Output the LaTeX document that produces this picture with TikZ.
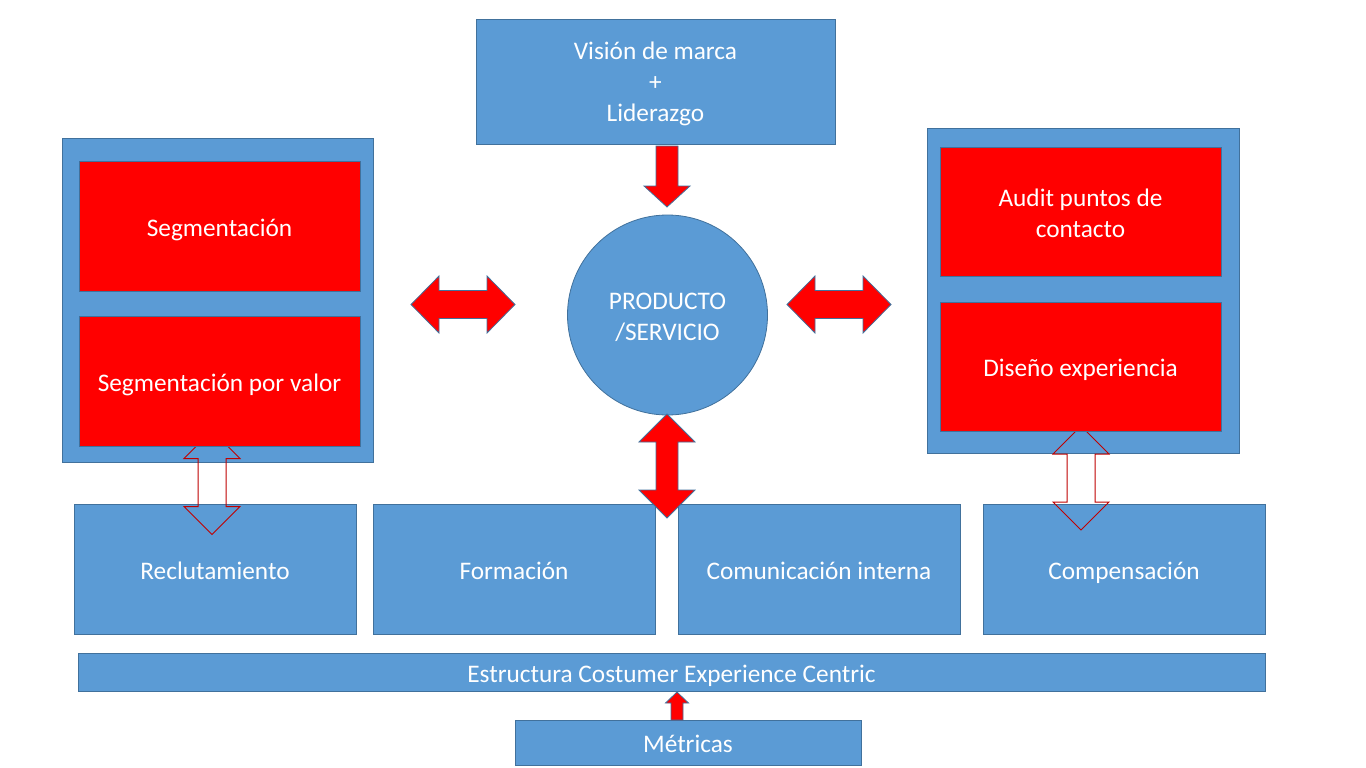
\documentclass[tikz,border=0pt]{standalone}
\usepackage{fontspec}
\setmainfont{Carlito}
\definecolor{boxblue}{HTML}{5B9BD5}
\definecolor{boxline}{HTML}{41719C}
\definecolor{hollowred}{HTML}{C00000}
\begin{document}
\begin{tikzpicture}[x=1pt,y=-1pt,
    box/.style={draw=boxline, fill=boxblue, line width=0.8pt, text=white, align=center,
      inner sep=0pt, font=\fontsize{25.3}{31}\selectfont},
    oneline/.style={text height=25pt, text depth=5pt},
    redbox/.style={box, fill=red},
    blockarrow/.style={draw=boxline, fill=red, line width=0.8pt},
    hollowarrow/.style={draw=hollowred, line width=1pt}]
    \useasboundingbox (0,0) rectangle (1366,768);
    \fill[white] (0,0) rectangle (1366,768);
    % top and centre
    \node[box, minimum width=359pt, minimum height=125pt] (vision) at (655.5,81.5) {\rule{0pt}{0.92em}Visión de marca\\+\\Liderazgo};
    \node[box, circle, minimum size=200pt] (prod) at (667.5,315) {\rule{0pt}{0.8em}PRODUCTO\\/SERVICIO};
    % side containers
    \node[box, minimum width=311pt, minimum height=324pt] (leftc) at (217.5,300) {};
    \node[box, minimum width=312pt, minimum height=325pt] (rightc) at (1083,290.5) {};
    % bottom row
    \node[box, oneline, minimum width=282pt, minimum height=130pt] (reclu) at (215,569) {Reclutamiento};
    \node[box, oneline, minimum width=282pt, minimum height=130pt] (forma) at (514,569) {Formación};
    \node[box, oneline, minimum width=282pt, minimum height=130pt] (comu) at (819,569) {Comunicación interna};
    \node[box, oneline, minimum width=282pt, minimum height=130pt] (compe) at (1124,569) {Compensación};
    \node[box, oneline, minimum width=1187pt, minimum height=38pt] (estru) at (671.5,672) {Estructura Costumer Experience Centric};
    \node[box, oneline, minimum width=346pt, minimum height=45pt] (metri) at (688,742.5) {Métricas};
    % hollow arrows
    \coordinate (h1) at (212,482.5);
    \coordinate (h2) at (1081,478);
    \foreach \c in {h1,h2}
      \draw[hollowarrow, shift={(\c)}] (0,-52) -- (28,-24) -- (14,-24) -- (14,24) -- (28,24) -- (0,52)
        -- (-28,24) -- (-14,24) -- (-14,-24) -- (-28,-24) -- cycle;
    % red boxes
    \node[redbox, oneline, minimum width=281pt, minimum height=130pt] (seg) at (219.5,226) {Segmentación};
    \node[redbox, oneline, minimum width=281pt, minimum height=130pt] (segv) at (219.5,381) {Segmentación por valor};
    \node[redbox, minimum width=281pt, minimum height=129pt] (audit) at (1080.5,211.5) {\rule{0pt}{0.86em}Audit puntos de\\contacto};
    \node[redbox, oneline, minimum width=281pt, minimum height=129pt] (disen) at (1080.5,366.5) {Diseño experiencia};
    % red arrows
    \coordinate (a1) at (667,176.5);
    \coordinate (a2) at (463,304.5);
    \coordinate (a3) at (839,304.5);
    \coordinate (a4) at (667,466);
    \coordinate (a5) at (677,706);
    \draw[blockarrow, shift={(a1)}] (-11,-30.5) -- (11,-30.5) -- (11,9.5) -- (23,9.5) -- (0,30.5)
      -- (-23,9.5) -- (-11,9.5) -- cycle;
    \foreach \c in {a2,a3}
      \draw[blockarrow, shift={(\c)}] (-52,0) -- (-24,-28.5) -- (-24,-14) -- (24,-14) -- (24,-28.5) -- (52,0)
        -- (24,28.5) -- (24,14) -- (-24,14) -- (-24,28.5) -- cycle;
    \draw[blockarrow, shift={(a4)}] (0,-52) -- (28,-24) -- (11,-24) -- (11,24) -- (28,24) -- (0,52)
      -- (-28,24) -- (-11,24) -- (-11,-24) -- (-28,-24) -- cycle;
    \draw[blockarrow, shift={(a5)}] (0,-14) -- (11.5,-3) -- (6,-3) -- (6,14) -- (-6,14) -- (-6,-3)
      -- (-11.5,-3) -- cycle;
\end{tikzpicture}
\end{document}
